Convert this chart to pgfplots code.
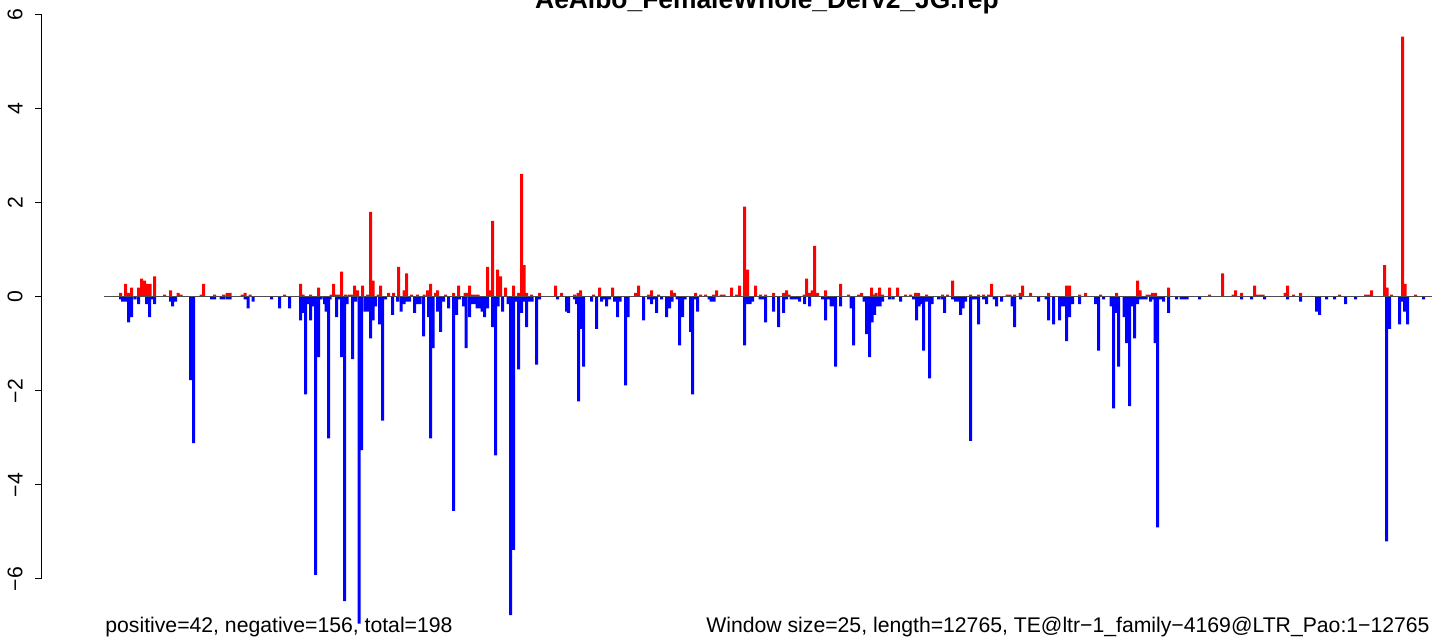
\documentclass[border=0pt]{standalone}
\usepackage{fontspec}
\setmainfont{Liberation Sans}
\usepackage{pgfplots}
\usepackage{pgfplotstable}
\pgfplotsset{compat=1.18}

\pgfplotstableread{
x v
120.5 0.09
125.5 0.28
128.5 0.09
131.5 0.20
138.5 0.20
141.5 0.39
144.5 0.35
147.5 0.28
150 0.28
154.5 0.44
164.5 0.05
170.5 0.14
178 0.09
181 0.05
201 0.05
203.5 0.28
214.5 0.05
223.5 0.05
227 0.09
230 0.09
242 0.05
245 0.09
250 0.05
284.5 0.05
300.5 0.28
303 0.05
310.5 0.05
318.5 0.20
331 0.05
333.5 0.28
336 0.05
339 0.05
341.5 0.54
345.5 0.05
349 0.05
352 0.05
354.5 0.24
357.5 0.14
362.5 0.24
367.5 0.05
370.5 1.81
373 0.35
378 0.05
380.5 0.24
388.5 0.09
393.5 0.09
398.5 0.64
404 0.14
406.5 0.50
411.5 0.05
417.5 0.05
424 0.05
427.5 0.14
430.5 0.28
435.5 0.09
437.5 0.14
445.5 0.05
453.5 0.09
458.5 0.24
465 0.09
467 0.09
469.5 0.24
472 0.05
475 0.05
478 0.05
487.5 0.64
490 0.14
492.5 1.62
497.5 0.58
500.5 0.44
505.5 0.20
513.5 0.24
518.5 0.09
521.5 2.62
524 0.68
526.5 0.09
531.5 0.05
539.5 0.09
555.5 0.24
561.5 0.09
574.5 0.05
578 0.09
580.5 0.14
593.5 0.05
599.5 0.20
612.5 0.20
635.5 0.09
638.5 0.24
648.5 0.05
651.5 0.14
658.5 0.05
671.5 0.14
674.5 0.09
695.5 0.09
700.5 0.05
705.5 0.05
713.5 0.05
716.5 0.14
721 0.05
724 0.05
731.5 0.20
736.5 0.05
739.5 0.24
744.5 1.92
747.5 0.58
755.5 0.24
760.5 0.05
765.5 0.05
773.5 0.09
783.5 0.09
786.5 0.14
789 0.05
804 0.05
806.5 0.39
809.5 0.09
812 0.14
814.5 1.09
817.5 0.09
825.5 0.14
840.5 0.28
848.5 0.05
858.5 0.05
861.5 0.09
871.5 0.20
874.5 0.05
876 0.09
879.5 0.20
882.5 0.05
889.5 0.20
897.5 0.20
905.5 0.05
910.5 0.05
915.5 0.09
918.5 0.09
926.5 0.05
942.5 0.05
947.5 0.05
952.5 0.35
970.5 0.05
978.5 0.05
983.5 0.05
988.5 0.05
991.5 0.28
1007 0.05
1010 0.05
1014.5 0.05
1020 0.09
1022.5 0.24
1030.5 0.09
1048.5 0.09
1066.5 0.24
1069.5 0.24
1079.5 0.05
1085.5 0.09
1100.5 0.05
1116.5 0.09
1137.5 0.35
1140 0.14
1147 0.05
1150 0.05
1152.5 0.09
1155.5 0.09
1168.5 0.20
1209.5 0.05
1222.5 0.50
1233 0.05
1235.5 0.14
1241.5 0.09
1254.5 0.24
1257.5 0.05
1260.5 0.05
1263 0.05
1285 0.09
1287.5 0.24
1293.5 0.05
1300.5 0.09
1339.5 0.05
1365.5 0.05
1368.5 0.05
1371.5 0.14
1384.5 0.68
1387 0.20
1391.5 0.05
1402.5 5.54
1405 0.28
1415.5 0.05
}\posdata

\pgfplotstableread{
x v
120.5 -0.05
122.5 -0.10
125.5 -0.10
128.5 -0.54
131.5 -0.43
135 -0.05
138.5 -0.15
146.5 -0.15
149.5 -0.43
152 -0.05
154.5 -0.15
170.5 -0.10
172.5 -0.20
175.5 -0.10
190.5 -1.77
193.5 -3.11
211.5 -0.05
214.5 -0.05
221 -0.05
223.5 -0.05
227 -0.05
230 -0.05
245 -0.05
248 -0.24
253 -0.10
271.5 -0.05
279.5 -0.24
289.5 -0.24
300.5 -0.50
303 -0.34
305.5 -2.07
308 -0.15
310.5 -0.50
313 -0.20
315.5 -5.91
318.5 -1.28
321 -0.05
324.5 -0.15
326 -0.31
328.5 -3.01
330 -0.05
336.5 -0.43
339 -0.05
341.5 -1.28
344.5 -6.47
347 -0.15
352.5 -1.32
355.5 -0.10
359 -6.95
361.5 -3.26
365 -0.31
368 -0.31
370.5 -0.88
373 -0.50
375.5 -0.20
379.5 -0.58
382.5 -2.63
385.5 -0.05
392.5 -0.38
397.5 -0.10
401 -0.31
404 -0.15
406.5 -0.10
409.5 -0.10
414.5 -0.34
417 -0.15
420 -0.15
423.5 -0.84
428.5 -0.43
430.5 -3.01
433 -1.09
437.5 -0.31
440.5 -0.74
443.5 -0.10
448.5 -0.24
453.5 -4.55
456.5 -0.38
459.5 -0.05
463.5 -0.20
466 -1.09
469.5 -0.43
472 -0.15
475 -0.15
477 -0.24
480 -0.24
482 -0.31
484.5 -0.43
487.5 -0.24
492.5 -0.64
495.5 -3.37
498 -0.20
502.5 -0.31
508 -0.15
510.5 -6.77
513.5 -5.38
516 -0.10
518.5 -1.54
521.5 -0.34
524 -0.10
526.5 -0.64
529 -0.10
532 -0.10
536.5 -1.44
539.5 -0.05
557.5 -0.05
566.5 -0.31
568.5 -0.34
574.5 -0.05
576.5 -0.15
578.5 -2.22
581 -0.68
583.5 -1.48
591.5 -0.10
596.5 -0.68
601.5 -0.10
604 -0.05
606.5 -0.20
609.5 -0.05
614.5 -0.10
617.5 -0.43
620 -0.10
625.5 -1.88
628 -0.43
643.5 -0.50
648.5 -0.05
651.5 -0.15
654 -0.05
656.5 -0.34
661.5 -0.05
666.5 -0.43
669.5 -0.24
672 -0.10
677 -0.05
679.5 -1.03
682.5 -0.43
685 -0.05
690.5 -0.74
692.5 -2.07
695 -0.05
697.5 -0.31
709 -0.05
711 -0.10
714 -0.10
744.5 -1.03
747.5 -0.15
750 -0.15
752.5 -0.10
760 -0.05
763 -0.05
765.5 -0.54
773.5 -0.31
778.5 -0.64
783.5 -0.34
786.5 -0.05
791 -0.05
794 -0.05
797 -0.05
799.5 -0.10
804.5 -0.15
809.5 -0.20
822.5 -0.05
825.5 -0.50
828 -0.05
831 -0.20
833 -0.20
835.5 -1.48
840.5 -0.20
851 -0.24
853.5 -1.03
864 -0.10
866.5 -0.79
869.5 -1.28
872 -0.54
874.5 -0.38
877 -0.20
880 -0.20
882.5 -0.10
889.5 -0.05
893 -0.05
900.5 -0.10
913.5 -0.05
916.5 -0.50
919 -0.20
921 -0.15
923.5 -1.14
926.5 -0.10
929.5 -1.73
932 -0.15
938.5 -0.05
942 -0.05
944.5 -0.34
952.5 -0.05
955.5 -0.10
958 -0.10
960.5 -0.38
963 -0.24
965.5 -0.10
970.5 -3.06
973 -0.05
976 -0.05
978.5 -0.58
983.5 -0.05
986.5 -0.15
994 -0.05
996.5 -0.20
1001.5 -0.10
1012 -0.20
1014.5 -0.64
1020.5 -0.05
1038.5 -0.10
1046 -0.05
1048.5 -0.50
1053.5 -0.58
1059.5 -0.50
1062 -0.20
1064.5 -0.20
1066.5 -0.94
1069.5 -0.43
1072.5 -0.15
1079.5 -0.15
1095.5 -0.15
1098.5 -1.14
1103.5 -0.05
1111 -0.20
1113.5 -2.37
1116 -0.34
1118.5 -1.48
1124 -0.43
1126.5 -0.98
1129.5 -2.32
1132 -0.20
1134.5 -0.88
1137.5 -0.15
1140 -0.05
1143 -0.05
1146 -0.05
1150.5 -0.10
1153 -0.05
1155 -0.98
1157.5 -4.90
1160.5 -0.05
1163.5 -0.10
1168.5 -0.34
1176.5 -0.05
1181 -0.05
1184 -0.05
1187 -0.05
1199.5 -0.05
1241.5 -0.05
1251.5 -0.05
1264.5 -0.05
1287.5 -0.05
1300.5 -0.10
1316.5 -0.31
1319.5 -0.38
1326.5 -0.05
1334.5 -0.05
1345.5 -0.15
1355.5 -0.05
1386.5 -5.20
1389.5 -0.68
1399.5 -0.58
1402 -0.10
1404.5 -0.31
1407.5 -0.58
1423.5 -0.05
}\negdata

\begin{document}
\begin{tikzpicture}
\useasboundingbox (0,0) rectangle (722pt,320.5pt);
\begin{axis}[
  scale only axis, width=701pt, height=282pt,
  at={(21pt,31pt)}, anchor=south west,
  xmin=42, xmax=1444, ymin=-6, ymax=6,
  clip=false,
  axis x line=none, axis y line=left,
  y axis line style={-, line width=0.5pt, black},
  ytick={-6,-4,-2,0,2,4,6},
  yticklabels={−6,−4,−2,0,2,4,6},
  tick align=outside, major tick length=3.5pt,
  tick style={black, line width=0.5pt},
  yticklabel style={font=\fontsize{10.6}{12}\selectfont, inner sep=0pt, xshift=-6pt, rotate=90, anchor=south},
  ]
\addplot[ybar, bar width=3, bar shift=0pt, fill=red, draw=none] table[x=x,y=v]{\posdata};
\addplot[ybar, bar width=3, bar shift=0pt, fill=blue, draw=none] table[x=x,y=v]{\negdata};
\addplot[black!70, line width=0.5pt, no marks] coordinates {(104,0) (1432,0)};
\end{axis}
\node[anchor=base, inner sep=0pt, font=\bfseries\fontsize{13.2}{15}\selectfont] at (383.5pt,316pt) {AeAlbo\_FemaleWhole\_Derv2\_JG.rep};
\node[anchor=base west, inner sep=0pt, font=\fontsize{10.6}{12}\selectfont] at (52.5pt,4pt) {positive=42, negative=156, total=198};
\node[anchor=base east, inner sep=0pt, font=\fontsize{10.6}{12}\selectfont] at (715pt,4pt) {Window size=25, length=12765, TE@ltr−1\_family−4169@LTR\_Pao:1−12765};
\end{tikzpicture}
\end{document}
